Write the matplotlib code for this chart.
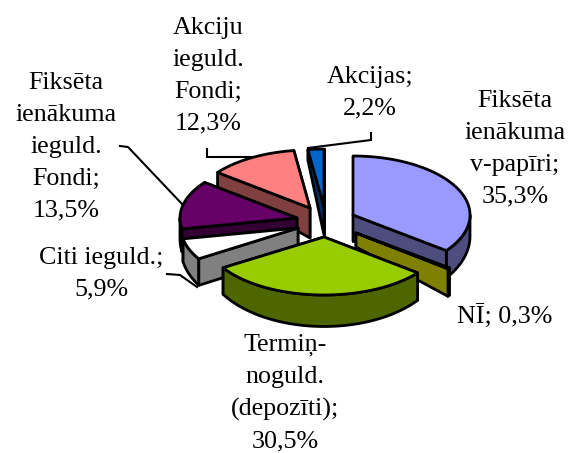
import numpy as np
import matplotlib
matplotlib.use("Agg")
import matplotlib.pyplot as plt
from matplotlib.patches import Polygon

# data
categories = ["Fiksēta\nienākuma\nv-papīri", "NĪ", "Termiņ-\nnoguld.\n(depozīti)", "Citi ieguld.",
              "Fiksēta\nienākuma\nieguld.\nFondi", "Akciju\nieguld.\nFondi", "Akcijas"]
values = [35.3, 0.3, 30.5, 5.9, 13.5, 12.3, 2.2]
value_labels = ["35,3%", "0,3%", "30,5%", "5,9%", "13,5%", "12,3%", "2,2%"]

# style / layout (figure pixel space)
top_colors = ["#9999FF", "#808000", "#99CC00", "#FFFFFF", "#660066", "#FF8080", "#0066CC"]
side_colors = ["#4D4D80", "#808000", "#4D6600", "#808080", "#330033", "#804040", "#003366"]
apex_x = [353, 356, 324, 298, 297, 310, 324]
apex_y = [215, 233, 237, 228, 218, 208, 207]
radius_x = [117, 117, 119, 117, 117, 117, 117]
radius_y = [59, 58, 58, 58, 58, 58, 58]
apex_depth = [26, 14, 26, 26, 26, 30, 28]
draw_order = [0, 6, 5, 4, 3, 1, 2]
label_x = [515, 505, 285, 101, 66, 208, 370]
label_y = [149, 317, 393, 274, 147, 76, 93]
label_sep = [";\n", "; ", ";\n", ";\n", ";\n", ";\n", ";\n"]
leaders = [([207, 207, 253], [149, 157, 157]),
           ([371, 371, 308], [133, 140, 148]),
           ([120, 128, 182], [146, 147, 204]),
           ([167, 180, 197], [274, 275, 287])]
LW = 2.0

fig = plt.figure(figsize=(5.72, 4.53), dpi=100)
ax = fig.add_axes([0, 0, 1, 1])
ax.set_xlim(0, 572)
ax.set_ylim(453, 0)
ax.axis("off")

frac = np.cumsum([0] + values) / sum(values) * 360.0


def rim(i, t):
    r = np.radians(t)
    return (apex_x[i] + radius_x[i] * np.sin(r), apex_y[i] - radius_y[i] * np.cos(r))


def rim_depth(t):
    return 21 - 10.5 * np.cos(np.radians(t))


def poly(pts, color, z):
    ax.add_patch(Polygon(pts, closed=True, facecolor=color, edgecolor="black",
                         linewidth=LW, joinstyle="round", zorder=z))


z = 1
for i in draw_order:
    t0, t1 = frac[i], frac[i + 1]
    ts = np.linspace(t0, t1, max(int(t1 - t0) * 2, 3))
    xs, ys = rim(i, ts)
    apex = (apex_x[i], apex_y[i])
    low = (apex_x[i], apex_y[i] + apex_depth[i])

    def cut(t):
        global z
        x, y = rim(i, t)
        poly([apex, (x, y), (x, y + rim_depth(t)), low], side_colors[i], z)
        z += 1

    # the cut face with the lower rim point faces the viewer
    back, front = (t0, t1) if rim(i, t0)[1] < rim(i, t1)[1] else (t1, t0)
    spans_front = t0 < 180 < t1
    cut(back)
    if spans_front:
        cut(front)
    # outer wall (front-facing part only)
    a, b = max(t0, 90), min(t1, 270)
    if b > a:
        tw = np.linspace(a, b, max(int(b - a) * 2, 3))
        xw, yw = rim(i, tw)
        dw = rim_depth(tw)
        pts = list(zip(xw, yw)) + list(zip(xw[::-1], (yw + dw)[::-1]))
        poly(pts, side_colors[i], z)
        z += 1
    if not spans_front:
        cut(front)
    # top face
    poly([apex] + list(zip(xs, ys)), top_colors[i], z)
    z += 1

for (lx, ly) in leaders:
    ax.plot(lx, ly, color="black", lw=1.5, zorder=0, solid_joinstyle="miter")

for i, cat in enumerate(categories):
    ax.text(label_x[i], label_y[i], cat + label_sep[i] + value_labels[i],
            family="Liberation Serif", fontsize=18.7, ha="center", va="center",
            multialignment="center", linespacing=1.58, color="black", zorder=z + 2)

fig.savefig("out.png", dpi=100)
